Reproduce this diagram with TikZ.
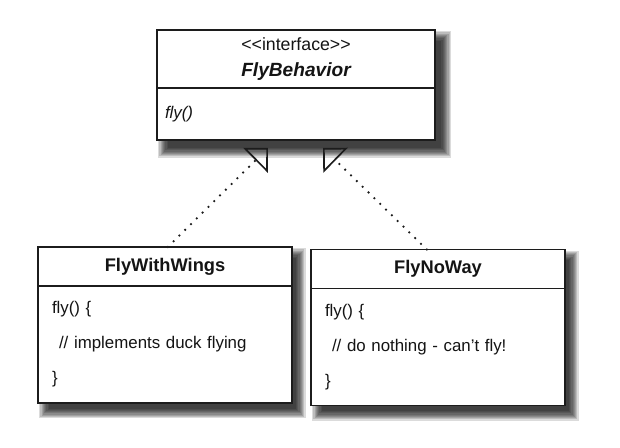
\documentclass[tikz,border=0pt]{standalone}
\usepackage{fontspec}
\setmainfont{Liberation Sans}
\usepackage{tikz}
\usetikzlibrary{arrows.meta}
\usetikzlibrary{positioning,backgrounds}
\definecolor{umlline}{RGB}{28,28,28}
\definecolor{umltext}{RGB}{20,20,20}

\tikzset{
  classtitle/.style={draw=umlline,line width=0.9pt,fill=white,outer sep=0pt,
    minimum width=6.35cm,minimum height=0.975cm,inner sep=0pt,text=umltext,
    font=\fontsize{13}{15}\selectfont\bfseries},
  classbody/.style={draw=umlline,line width=0.9pt,fill=white,outer sep=0pt,
    minimum width=6.35cm,minimum height=2.925cm,text width=5.65cm,
    inner xsep=0.35cm,inner ysep=0pt,align=left,text=umltext,
    font=\fontsize{12}{24.8}\selectfont},
  ifacetitle/.style={classtitle,minimum width=6.95cm,minimum height=1.45cm,
    align=center,font=\fontsize{13}{18.4}\selectfont},
  ifacebody/.style={classbody,minimum width=6.95cm,minimum height=1.3cm,
    text width=6.55cm,inner xsep=0.2cm},
  realizes/.style={umlline,line width=1.8pt,line cap=round,
    dash pattern=on 0pt off 5.8pt,
    -{Triangle[open,length=0.44cm,width=0.87cm,line width=1.2pt]}}
}

\begin{document}
\begin{tikzpicture}
  \useasboundingbox (0,0) rectangle (15.5,11.2);
  % the interface
  \node[ifacetitle] (flytitle) at (7.4,9.725)
    {{\fontsize{12.6}{18.4}\selectfont \mbox{<}\mbox{<}interface\mbox{>}\mbox{>}}\\
     {\fontsize{13.6}{18.4}\selectfont\bfseries\itshape FlyBehavior}};
  \node[ifacebody,below=0pt of flytitle] (fly)
    {\itshape fly()\\[4pt]};
  % the two classes
  \node[classtitle] (wingstitle) at (4.125,4.5375) {FlyWithWings};
  \node[classbody,below=0pt of wingstitle] (wings)
    {fly() \{\\\hspace{5pt}// implements duck flying\\\}};
  \node[classtitle] (nowaytitle) at (10.95,4.475) {FlyNoWay};
  \node[classbody,below=0pt of nowaytitle] (noway)
    {fly() \{\\\hspace{5pt}// do nothing - can't fly!\\\}};
  % realization arrows
  \coordinate (tipwings) at ([shift={(-0.7,-0.2)}]fly.south);
  \coordinate (tipnoway) at ([shift={(0.675,-0.2)}]fly.south);
  \draw[realizes] ([xshift=0.07cm]wingstitle.north) -- (tipwings);
  \draw[realizes] ([xshift=-0.28cm]nowaytitle.north) -- (tipnoway);
  % blurred shadows, right and bottom only
  \begin{scope}[on background layer]
    \foreach \t/\b/\s in {flytitle/fly/0.16,wingstitle/wings/0.1,nowaytitle/noway/0.1}{
      \foreach \r in {0.24,0.21,0.18,0.15,0.12,0.09,0.06,0.03,0}{
        \fill[black,opacity=0.14]
          ([shift={({0.27-\r},{-0.27+\r})}]\t.north west) rectangle
          ([shift={({\s+\r},{-\s-0.04-\r})}]\b.south east);}}
  \end{scope}
\end{tikzpicture}
\end{document}
